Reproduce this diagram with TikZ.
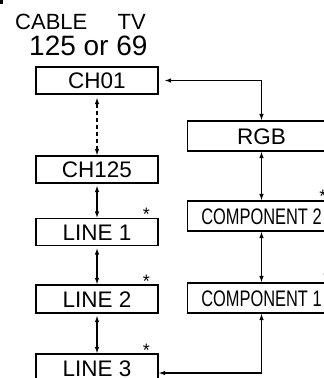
\documentclass[tikz,border=0pt]{standalone}
\usepackage{fontspec}
\usepackage{graphicx}
\setmainfont{Liberation Sans}
\newcommand{\squeezed}[1]{\scalebox{0.73}[1]{#1}}
\usetikzlibrary{arrows.meta}
\begin{document}
\begin{tikzpicture}[x=1pt,y=-1pt,
    box/.style={draw, line width=1.1pt, inner sep=0pt, minimum width=122pt,
        minimum height=27pt, text height=16pt, text depth=0pt,
        font=\fontsize{22.5}{24}\selectfont},
    widebox/.style={box, minimum width=148pt, minimum height=30pt},
    link/.style={line width=1.1pt,
        {Latex[length=6.5pt,width=4.5pt]}-{Latex[length=6.5pt,width=4.5pt]}},
    starlabel/.style={anchor=base, inner sep=0pt, font=\fontsize{18}{18}\selectfont}]
    \useasboundingbox (0,0) rectangle (324,378);
    \clip (0,0) rectangle (324,378);
    \fill (0,0) rectangle (2.5,3.5);
    % heading
    \node[anchor=base west, inner sep=0pt, font=\fontsize{22}{24}\selectfont] (cable) at (15,29) {CABLE};
    \node[anchor=base east, inner sep=0pt, font=\fontsize{22}{24}\selectfont] (tv) at (146,29) {TV};
    \node[anchor=base west, inner sep=0pt, font=\fontsize{28}{30}\selectfont] (count) at (29,55) {125 or 69};
    % left column
    \node[box] (ch01) at (97,80.5) {CH01};
    \node[box] (ch125) at (97,169.5) {CH125};
    \node[box] (line1) at (97,232) {LINE 1};
    \node[box, minimum height=28pt] (line2) at (97,299) {LINE 2};
    \node[box, minimum height=28pt] (line3) at (97,368) {LINE 3};
    % right column
    \node[widebox] (rgb) at (261.5,136) {RGB};
    \node[widebox] (comp2) at (261.5,216) {\squeezed{COMPONENT 2}};
    \node[widebox] (comp1) at (261.5,298) {\squeezed{COMPONENT 1}};
    % asterisks
    \node[starlabel] (s1) at (146.5,220.3) {*};
    \node[starlabel] (s2) at (146.5,287.3) {*};
    \node[starlabel] (s3) at (146.5,356.3) {*};
    \node[starlabel] (s4) at (323,202.3) {*};
    \node[starlabel] (s5) at (327,284.3) {*};
    % connectors
    \draw[link, shorten <=6pt] (ch01.east) -- (ch01.east -| rgb.north) -- (rgb.north);
    \draw[link, dash pattern=on 4pt off 3pt, shorten <=3pt] (ch01) -- (ch125);
    \draw[link, shorten <=2pt] (ch125) -- (line1);
    \draw[link, shorten <=2pt] (line1) -- (line2);
    \draw[link, shorten <=2pt] (line2) -- (line3);
    \draw[link] (rgb) -- (comp2);
    \draw[link] (comp2) -- (comp1);
    \coordinate (bend) at (261.5,373);
    \draw[link] (comp1) -- (bend) -- (bend -| line3.east);
\end{tikzpicture}
\end{document}
